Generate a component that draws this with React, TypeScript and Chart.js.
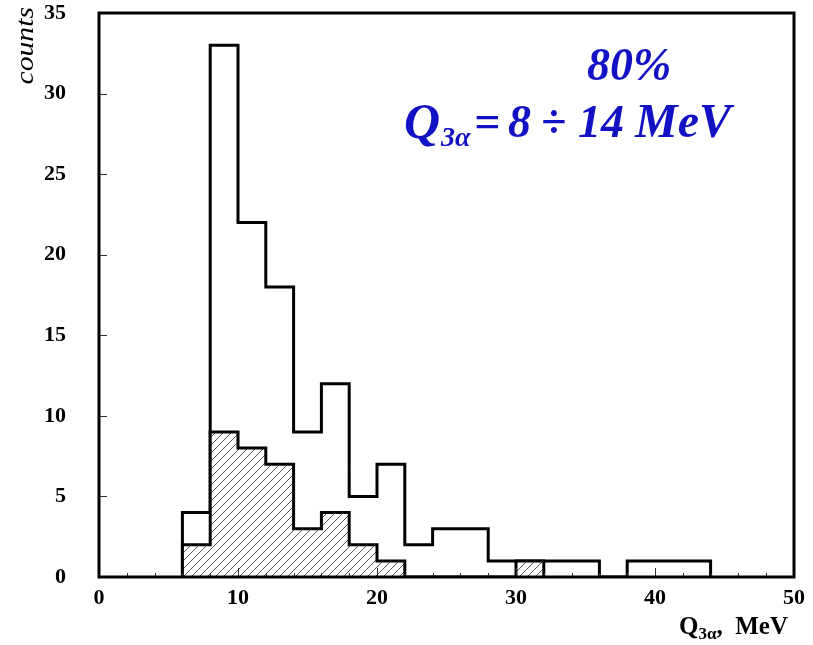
import React, { useEffect, useRef } from "react";
import { Chart, registerables } from "chart.js";

Chart.register(...registerables);

// Histogram binning (MeV)
const binStart = 6;
const binWidth = 2;

// All events per 2 MeV bin, starting at 6 MeV
const totalCounts = [4, 33, 22, 18, 9, 12, 5, 7, 2, 3, 3, 1, 1, 1, 1, 0, 1, 1, 1];
// Selected (hatched) events per 2 MeV bin, starting at 6 MeV
const hatchedCounts = [2, 9, 8, 7, 3, 4, 2, 1, 0, 0, 0, 0, 1];

// Axis ranges and tick spacing
const xRange = [0, 50];
const yRange = [0, 35];
const xLabelStep = 10;
const xMinorStep = 2;
const yLabelStep = 5;

const SERIF = "'Liberation Serif', 'Times New Roman', serif";
const BLUE = "#1212c4";

// Turn bin counts into a closed step outline: (left edge, count) pairs plus a drop to zero
function toSteps(counts: number[]) {
  const pts = [{ x: binStart, y: 0 }];
  counts.forEach((c, i) => pts.push({ x: binStart + i * binWidth, y: c }));
  pts.push({ x: binStart + counts.length * binWidth, y: 0 });
  return pts;
}

function makeHatch(): CanvasPattern | string {
  const size = 8;
  const c = document.createElement("canvas");
  c.width = size;
  c.height = size;
  const g = c.getContext("2d");
  if (!g) return "#bbb";
  g.fillStyle = "#ffffff";
  g.fillRect(0, 0, size, size);
  g.strokeStyle = "#555";
  g.lineWidth = 1;
  g.beginPath();
  g.moveTo(-1, size + 1);
  g.lineTo(size + 1, -1);
  g.moveTo(-1, 1);
  g.lineTo(1, -1);
  g.moveTo(size - 1, size + 1);
  g.lineTo(size + 1, size - 1);
  g.stroke();
  const p = g.createPattern(c, "repeat");
  return p || "#bbb";
}

// Frame, inward ticks and the text decorations
const framePlugin = {
  id: "frameAndText",
  afterDraw(chart: any) {
    const { ctx, chartArea: a, scales } = chart;
    const xs = scales.x;
    const ys = scales.y;
    ctx.save();

    // inward tick marks
    ctx.strokeStyle = "#333";
    ctx.lineWidth = 1;
    ctx.beginPath();
    for (let v = xRange[0]; v <= xRange[1]; v += xMinorStep) {
      const px = Math.round(xs.getPixelForValue(v)) + 0.5;
      const len = v % xLabelStep === 0 ? 9 : 4;
      ctx.moveTo(px, a.bottom);
      ctx.lineTo(px, a.bottom - len);
    }
    for (let v = yRange[0]; v <= yRange[1]; v += yLabelStep) {
      const py = Math.round(ys.getPixelForValue(v)) + 0.5;
      ctx.moveTo(a.left, py);
      ctx.lineTo(a.left + 8, py);
    }
    ctx.stroke();

    // frame
    ctx.strokeStyle = "#000";
    ctx.lineWidth = 3;
    ctx.strokeRect(a.left, a.top, a.right - a.left, a.bottom - a.top);

    // y title
    ctx.fillStyle = "#000";
    ctx.save();
    ctx.translate(33, 7);
    ctx.rotate(-Math.PI / 2);
    ctx.scale(1.06, 0.9);
    ctx.font = `italic 28px ${SERIF}`;
    ctx.textAlign = "right";
    ctx.textBaseline = "alphabetic";
    ctx.fillText("counts", 0, 0);
    ctx.restore();

    // x title: Q_{3α}, MeV
    ctx.textBaseline = "alphabetic";
    ctx.textAlign = "left";
    const big = `bold 25px ${SERIF}`;
    const small = `bold 17px ${SERIF}`;
    const base = 634;
    ctx.font = big;
    ctx.fillText("Q", 679, base);
    const qEnd = 679 + ctx.measureText("Q").width;
    ctx.font = small;
    ctx.fillText("3α", qEnd, base + 5);
    const sEnd = qEnd + ctx.measureText("3α").width;
    ctx.font = big;
    ctx.fillText(",", sEnd, base);
    ctx.textAlign = "right";
    ctx.fillText("MeV", 788, base);

    // annotation
    ctx.textAlign = "left";
    ctx.fillStyle = BLUE;
    const ann = `bold italic 46px ${SERIF}`;
    ctx.font = ann;
    ctx.fillText("80%", 587, 80);
    ctx.font = `bold italic 50px ${SERIF}`;
    ctx.fillText("Q", 404, 138);
    const aq = 404 + ctx.measureText("Q").width;
    ctx.font = `bold italic 28px ${SERIF}`;
    ctx.fillText("3α", aq + 1, 146);
    ctx.font = ann;
    ctx.fillText("=", 474, 137);
    ctx.fillText("8", 508, 137);
    ctx.fillText("÷", 541, 137);
    ctx.fillText("14", 578, 137);
    ctx.font = `bold italic 48px ${SERIF}`;
    ctx.fillText("MeV", 635, 137);

    ctx.restore();
  },
};

export default function App() {
  const ref = useRef<HTMLCanvasElement | null>(null);

  useEffect(() => {
    if (!ref.current) return;
    const hatch = makeHatch();
    const tickFont = { family: SERIF, size: 22, weight: "bold" as const };

    const chart = new Chart(ref.current, {
      type: "line",
      data: {
        datasets: [
          {
            label: "selected",
            data: toSteps(hatchedCounts),
            stepped: "before",
            borderColor: "#000",
            borderWidth: 3,
            backgroundColor: hatch as any,
            fill: "origin",
            pointRadius: 0,
          },
          {
            label: "all",
            data: toSteps(totalCounts),
            stepped: "before",
            borderColor: "#000",
            borderWidth: 3,
            fill: false,
            pointRadius: 0,
          },
        ],
      },
      options: {
        animation: false,
        responsive: false,
        events: [],
        layout: { padding: { left: 0, right: 19, top: 13, bottom: 0 } },
        plugins: {
          legend: { display: false },
          tooltip: { enabled: false },
          title: { display: false },
        },
        scales: {
          x: {
            type: "linear",
            min: xRange[0],
            max: xRange[1],
            grid: { display: false, drawTicks: false },
            border: { display: false },
            ticks: {
              stepSize: xLabelStep,
              color: "#000",
              font: tickFont,
              padding: 8,
              maxRotation: 0,
            },
            afterFit(scale: any) {
              scale.height = 68;
              scale.paddingLeft = 0;
              scale.paddingRight = 0;
            },
          },
          y: {
            type: "linear",
            min: yRange[0],
            max: yRange[1],
            grid: { display: false, drawTicks: false },
            border: { display: false },
            ticks: {
              stepSize: yLabelStep,
              color: "#000",
              font: tickFont,
              padding: 33,
            },
            afterFit(scale: any) {
              scale.width = 99;
              scale.paddingTop = 0;
              scale.paddingBottom = 0;
            },
          },
        },
      },
      plugins: [framePlugin],
    });
    return () => chart.destroy();
  }, []);

  return (
    <div style={{ position: "fixed", left: 0, top: 0, width: 813, height: 645, background: "#fff" }}>
      <canvas ref={ref} width={813} height={645} style={{ display: "block" }} />
    </div>
  );
}
